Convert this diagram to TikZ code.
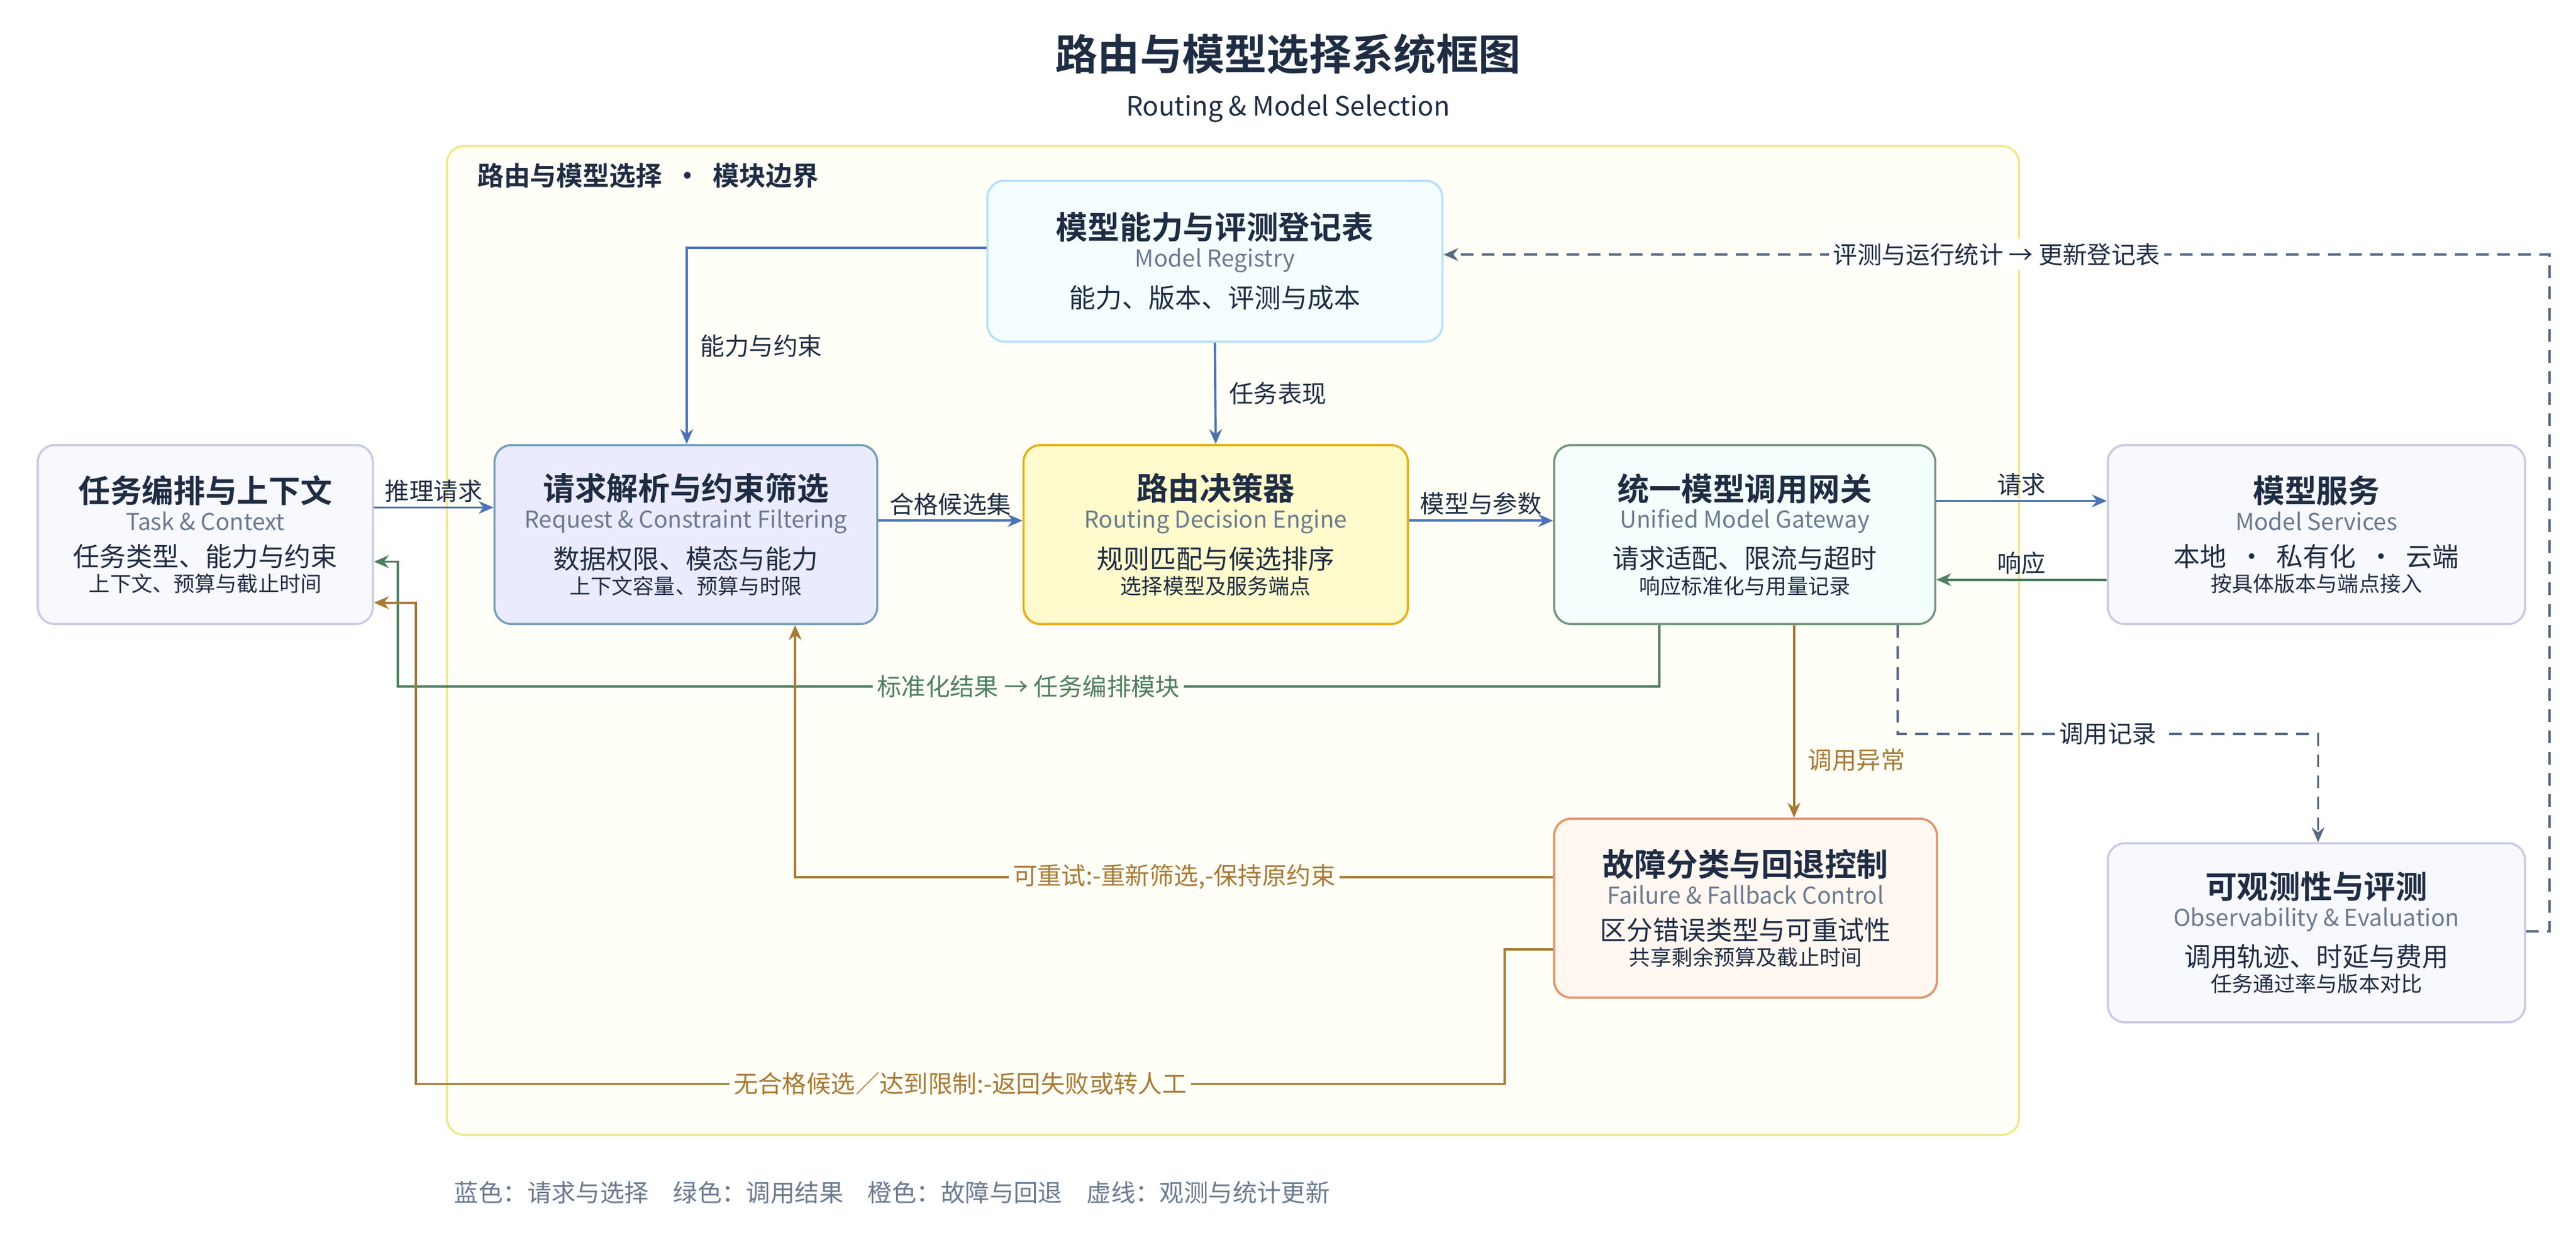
\documentclass[tikz,border=0pt]{standalone}
\usepackage{fontspec}
\setmainfont{Noto Sans CJK SC}[BoldFont={Noto Sans CJK SC Bold}]
\usetikzlibrary{arrows.meta}
\definecolor{ink}{HTML}{1F2D44}
\definecolor{subink}{HTML}{6B7A90}
\definecolor{linkblue}{HTML}{4A72B8}
\definecolor{linkgreen}{HTML}{4E7F5E}
\definecolor{linkorange}{HTML}{A87A35}
\definecolor{linkgray}{HTML}{5A6A82}
\newcommand{\boxtext}[3]{{\fontsize{15}{18}\selectfont\bfseries #1}\\[1pt]{\color{subink}\fontsize{11}{14}\selectfont #2}\\[5pt]\fontsize{12.5}{16.5}\selectfont #3}
\tikzset{
  card/.style={draw, rounded corners=8pt, line width=1pt, align=center, text=ink,
    minimum height=109*0.7766pt, inner sep=0pt},
  graycard/.style={card, fill=gray!8!blue!3, draw=gray!60!blue!30},
  tag/.style={font=\fontsize{11.5}{14}\selectfont, inner sep=2pt},
  blue arr/.style={draw=linkblue, line width=1.1pt, -{Stealth[length=7pt,width=6pt]}},
  green arr/.style={draw=linkgreen, line width=1.1pt, -{Stealth[length=7pt,width=6pt]}},
  orange arr/.style={draw=linkorange, line width=1.1pt, -{Stealth[length=7pt,width=6pt]}},
  gray arr/.style={draw=linkgray, line width=1.1pt, dash pattern=on 6pt off 4pt, -{Stealth[length=7pt,width=6pt]}},
}
\begin{document}
\begin{tikzpicture}[x=0.027296cm, y=-0.027296cm]
  \useasboundingbox (0,0) rectangle (1568,754.7);
  \fill[white] (0,0) rectangle (1568,754.7);
  % title
  \node (title) [text=ink, font=\fontsize{20}{24}\selectfont\bfseries] at (784,33) {路由与模型选择系统框图};
  \node (subtitle) [text=ink, font=\fontsize{12.5}{15}\selectfont] at (784,66) {Routing \& Model Selection};
  % module boundary
  \draw[fill=orange!4!yellow!3, draw=brown!40!yellow!50, line width=1pt, rounded corners=8pt] (272,89) rectangle (1229,691);
  \node (boundary) [anchor=west, text=ink, font=\fontsize{12.5}{15}\selectfont\bfseries] at (286,107) {路由与模型选择 ~·~ 模块边界};
  % boxes
  \node (registry) [card, fill=blue!8!cyan!4, draw=blue!40!cyan!30, minimum width=277*0.7766pt, minimum height=98*0.7766pt] at (739.5,159)
    {\boxtext{模型能力与评测登记表}{Model Registry}{能力、版本、评测与成本}};
  \node (task) [graycard, minimum width=204*0.7766pt] at (125,325.5)
    {\boxtext{任务编排与上下文}{Task \& Context}{任务类型、能力与约束\\上下文、预算与截止时间}};
  \node (request) [card, fill=blue!8, draw=blue!40!cyan!35!gray!80, minimum width=233*0.7766pt] at (417.5,325.5)
    {\boxtext{请求解析与约束筛选}{Request \& Constraint Filtering}{数据权限、模态与能力\\上下文容量、预算与时限}};
  \node (router) [card, fill=orange!15!yellow!20, draw=orange!50!yellow!70!brown, minimum width=234*0.7766pt] at (740,325.5)
    {\boxtext{路由决策器}{Routing Decision Engine}{规则匹配与候选排序\\选择模型及服务端点}};
  \node (gateway) [card, fill=green!8!cyan!4, draw=linkgreen!80, minimum width=232*0.7766pt] at (1062,325.5)
    {\boxtext{统一模型调用网关}{Unified Model Gateway}{请求适配、限流与超时\\响应标准化与用量记录}};
  \node (services) [graycard, minimum width=254*0.7766pt] at (1410,325.5)
    {\boxtext{模型服务}{Model Services}{本地 ~·~ 私有化 ~·~ 云端\\按具体版本与端点接入}};
  \node (failure) [card, fill=red!8!orange!6, draw=orange!40!red!35!brown!70, minimum width=233*0.7766pt] at (1062.5,553)
    {\boxtext{故障分类与回退控制}{Failure \& Fallback Control}{区分错误类型与可重试性\\共享剩余预算及截止时间}};
  \node (observe) [graycard, minimum width=254*0.7766pt] at (1410,568)
    {\boxtext{可观测性与评测}{Observability \& Evaluation}{调用轨迹、时延与费用\\任务通过率与版本对比}};
  % main flow
  \draw[blue arr] (task.east |- 0,309) -- node[tag, above, text=ink] {推理请求} (request.west |- 0,309);
  \draw[blue arr] (request.east |- 0,317) -- node[tag, above, text=ink] {合格候选集} (router.west |- 0,317);
  \draw[blue arr] (router.east |- 0,317) -- node[tag, above, text=ink] {模型与参数} (gateway.west |- 0,317);
  \draw[blue arr] (gateway.east |- 0,305) -- node[tag, above, text=ink] {请求} (services.west |- 0,305);
  \draw[green arr] (services.west |- 0,353) -- node[tag, above, text=ink] {响应} (gateway.east |- 0,353);
  \draw[blue arr] (registry.west |- 0,151) -| node[tag, pos=0.75, right=4pt, text=ink] {能力与约束} (request.north -| 418,0);
  \draw[blue arr] (registry.south) -- node[tag, right=4pt, text=ink] {任务表现} (router.north -| 740,0);
  % results and fallback
  \draw[green arr] (gateway.south -| 1010,0) |- (242,418) node[tag, pos=0.75, fill=orange!4!yellow!3, text=linkgreen] {标准化结果 → 任务编排模块} |- (task.east |- 0,342);
  \draw[orange arr] (gateway.south -| 1092,0) -- node[tag, pos=0.7, right=4pt, text=linkorange] {调用异常} (failure.north -| 1092,0);
  \draw[orange arr] (failure.west |- 0,534) -| node[tag, pos=0.25, fill=orange!4!yellow!3, text=linkorange] {可重试:-重新筛选,-保持原约束} (request.south -| 484,0);
  \draw[orange arr] (failure.west |- 0,578) -- (916,578) |- (253,660) node[tag, pos=0.75, fill=orange!4!yellow!3, text=linkorange] {无合格候选／达到限制:-返回失败或转人工} |- (task.east |- 0,367);
  % observation loop
  \draw[gray arr] (gateway.south -| 1155,0) |- (1411,447) node[tag, pos=0.75, fill=white, text=ink] {调用记录} -- (observe.north -| 1411,0);
  \draw[gray arr] (observe.east |- 0,567) -- (1552,567) |- node[tag, pos=0.75, fill=white, text=ink] {评测与运行统计 → 更新登记表} (registry.east |- 0,155);
  % legend
  \node (legend) [anchor=west, text=subink, font=\fontsize{11.5}{14}\selectfont] at (272,726)
    {蓝色：请求与选择\quad 绿色：调用结果\quad 橙色：故障与回退\quad 虚线：观测与统计更新};
\end{tikzpicture}
\end{document}
